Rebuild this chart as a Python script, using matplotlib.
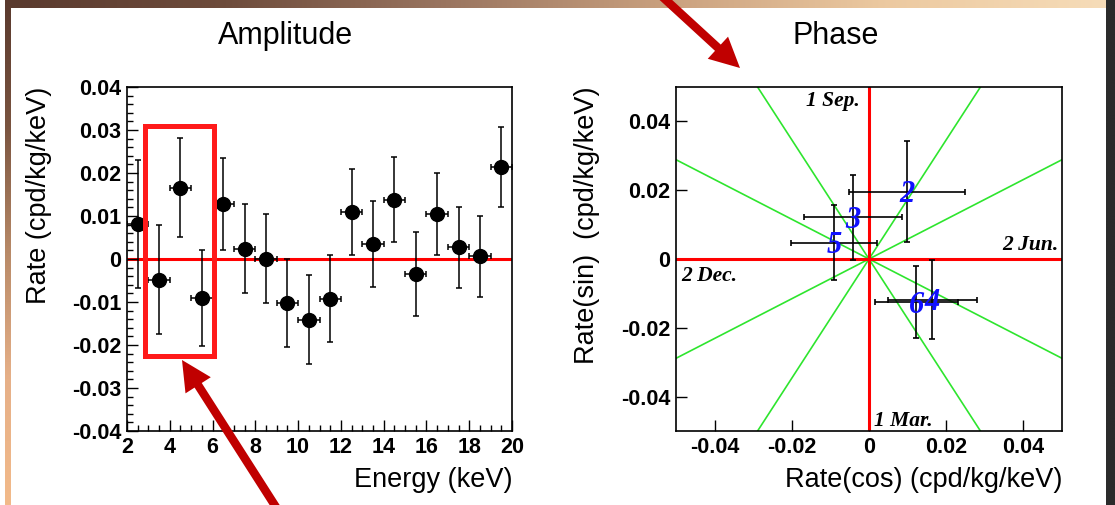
import numpy as np
import matplotlib
matplotlib.use('Agg')
import matplotlib.pyplot as plt
from matplotlib.patches import Rectangle, FancyArrow

plt.rcParams['font.family'] = ['Liberation Sans', 'DejaVu Sans']

# amplitude per energy bin
energy = [2.5, 3.5, 4.5, 5.5, 6.5, 7.5, 8.5, 9.5, 10.5, 11.5,
          12.5, 13.5, 14.5, 15.5, 16.5, 17.5, 18.5, 19.5]
energy_half = [0.5] * 18
amp = [0.0081, -0.0048, 0.0166, -0.0091, 0.0128, 0.0024, 0.0001, -0.0102, -0.0141,
       -0.0092, 0.0109, 0.0034, 0.0138, -0.0035, 0.0105, 0.0027, 0.0006, 0.0213]
amp_err = [0.0149, 0.0126, 0.0115, 0.0111, 0.0108, 0.0104, 0.0104, 0.0102, 0.0103,
           0.0102, 0.0100, 0.0100, 0.0099, 0.0097, 0.0096, 0.0095, 0.0094, 0.0093]

# phase plot points
ph_labels = ['2', '3', '5', '6', '4']
ph_cos = [0.0099, -0.0042, -0.0091, 0.0123, 0.0164]
ph_cos_err = [0.0150, 0.0127, 0.0112, 0.0108, 0.0116]
ph_sin = [0.0196, 0.0121, 0.0047, -0.0126, -0.0118]
ph_sin_err = [0.0147, 0.0123, 0.0109, 0.0105, 0.0114]
month_angles = [30, 60, 120, 150]

W, H = 1115, 505
fig = plt.figure(figsize=(W / 100, H / 100), dpi=100)
fig.patch.set_facecolor('white')

# slide border
def strip(x0, y0, w, h, colors, vertical):
    ax = fig.add_axes([x0 / W, 1 - (y0 + h) / H, w / W, h / H])
    cols = np.array([matplotlib.colors.to_rgb(c) for c in colors])
    t = np.linspace(0, 1, 200)
    grad = np.stack([np.interp(t, np.linspace(0, 1, len(cols)), cols[:, k]) for k in range(3)], axis=-1)
    img = grad[:, None, :] if vertical else grad[None, :, :]
    ax.imshow(img, aspect='auto', interpolation='bilinear')
    ax.axis('off')

strip(5, 0, 1101, 8, ['#5a3a2e', '#6e4c3c', '#9a7560', '#c9a07e', '#ecc9a0', '#f6dcb8'], False)
strip(5, 0, 6, 505, ['#5a3a2e', '#7a5440', '#b88a68', '#e6b088', '#f2ba8a'], True)
strip(1106, 0, 9, 505, ['#2b2b2b', '#2b2b2b'], True)

def style_axes(ax):
    for s in ax.spines.values():
        s.set_linewidth(1.2)
    ax.tick_params(which='both', direction='in', top=False, right=False,
                   labelsize=15.5, width=1.0, pad=4)
    ax.tick_params(which='major', length=8)
    ax.tick_params(which='minor', length=4)
    for lab in ax.get_xticklabels() + ax.get_yticklabels():
        lab.set_fontweight('bold')

# ---- Amplitude ----
ax1 = fig.add_axes([127 / W, 1 - 431 / H, 385 / W, 344 / H])
ax1.axhline(0, color='#ff0000', lw=2.2, zorder=1)
ax1.errorbar(energy, amp, xerr=energy_half, yerr=amp_err, fmt='o', color='black',
             ms=10, elinewidth=1.1, capsize=2.5, capthick=1.1, zorder=3)
ax1.set_xlim(2, 20)
ax1.set_ylim(-0.04, 0.04)
ax1.set_xticks(range(2, 21, 2))
ax1.set_xticks(np.arange(2, 20.01, 0.5), minor=True)
ax1.set_yticks(np.arange(-0.04, 0.0401, 0.01))
ax1.set_yticks(np.arange(-0.04, 0.0401, 0.002), minor=True)
ax1.set_yticklabels(['-0.04', '-0.03', '-0.02', '-0.01', '0', '0.01', '0.02', '0.03', '0.04'])
ax1.set_xticklabels([str(v) for v in range(2, 21, 2)])
style_axes(ax1)
ax1.set_xlabel('Energy (keV)', fontsize=19.5, loc='right')
ax1.xaxis.set_label_coords(1.0, -0.105)
ax1.set_ylabel('Rate (cpd/kg/keV)', fontsize=19.5, loc='top')
ax1.yaxis.set_label_coords(-0.195, 1.0)
ax1.add_patch(Rectangle((2.83, -0.0226), 6.09 - 2.83, 0.031 + 0.0226, fill=False,
                        edgecolor='#ff1a1a', lw=3.6, clip_on=False, zorder=5))

# ---- Phase ----
ax2 = fig.add_axes([676 / W, 1 - 431 / H, 386 / W, 344 / H])
for a in month_angles:
    ax2.axline((0, 0), slope=np.tan(np.radians(a)), color='#2ee52e', lw=1.2, zorder=1)
ax2.axhline(0, color='#ff0000', lw=2.2, zorder=2)
ax2.axvline(0, color='#ff0000', lw=2.2, zorder=2)
ax2.errorbar(ph_cos, ph_sin, xerr=ph_cos_err, yerr=ph_sin_err, fmt='none', ecolor='black',
             elinewidth=1.2, capsize=2.5, capthick=1.2, zorder=3)
for lab, x, y in zip(ph_labels, ph_cos, ph_sin):
    ax2.text(x, y - 0.0008, lab, color='#1010ff', fontsize=22, family='Liberation Serif',
             fontweight='bold', style='italic', ha='center', va='center', zorder=4)
ax2.set_xlim(-0.05, 0.05)
ax2.set_ylim(-0.05, 0.05)
ax2.set_xticks([-0.04, -0.02, 0, 0.02, 0.04])
ax2.set_yticks([-0.04, -0.02, 0, 0.02, 0.04])
ax2.set_xticklabels(['-0.04', '-0.02', '0', '0.02', '0.04'])
ax2.set_yticklabels(['-0.04', '-0.02', '0', '0.02', '0.04'])
style_axes(ax2)
ax2.set_xlabel('Rate(cos) (cpd/kg/keV)', fontsize=19.5, loc='right')
ax2.xaxis.set_label_coords(1.0, -0.105)
ax2.set_ylabel('Rate(sin)  (cpd/kg/keV)', fontsize=19.5, loc='top')
ax2.yaxis.set_label_coords(-0.197, 1.0)

mkw = dict(family='Liberation Serif', fontweight='bold', style='italic', fontsize=15.5, zorder=4)
ax2.text(-0.0025, 0.0459, '1 Sep.', ha='right', va='center', **mkw)
ax2.text(0.049, 0.0042, '2 Jun.', ha='right', va='center', **mkw)
ax2.text(-0.0486, -0.0050, '2 Dec.', ha='left', va='center', **mkw)
ax2.text(0.0012, -0.0470, '1 Mar.', ha='left', va='center', **mkw)

fig.text(286 / W, 1 - 44 / H, 'Amplitude', fontsize=22, ha='center', va='baseline')
fig.text(836 / W, 1 - 44 / H, 'Phase', fontsize=22, ha='center', va='baseline')

# slide arrows (pixel -> inch coordinates)
def arrow(x0, y0, x1, y1):
    a = FancyArrow(x0 / 100, (H - y0) / 100, (x1 - x0) / 100, -(y1 - y0) / 100,
                   width=0.085, head_width=0.30, head_length=0.30,
                   length_includes_head=True, color='#c00000', lw=0,
                   transform=fig.dpi_scale_trans)
    fig.add_artist(a)

arrow(655, -10, 740, 68)
arrow(281, 515, 182, 360)

fig.savefig('out.png', dpi=100)
